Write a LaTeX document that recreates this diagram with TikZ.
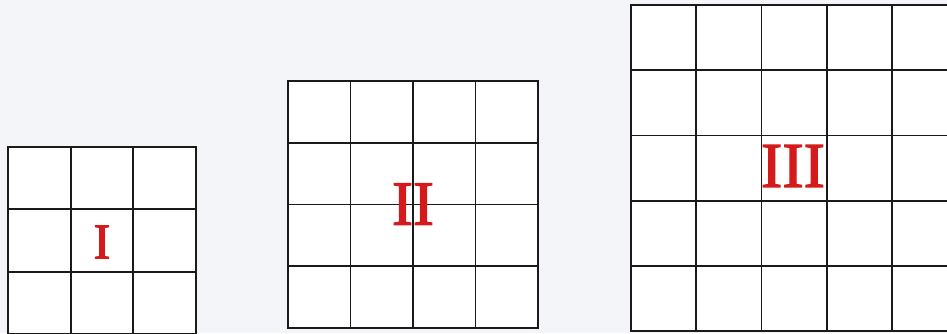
\documentclass[tikz,border=0pt]{standalone}
\usepackage{fontspec}
\setmainfont{Liberation Serif}
\newfontfamily\numfont[FakeBold=2]{Liberation Serif}
\definecolor{bgc}{HTML}{F4F5F8}
\definecolor{gridc}{HTML}{1A1A1A}
\definecolor{numc}{HTML}{D41A1A}
\tikzset{
  gridline/.style={draw=gridc, line width=1.8pt, fill=white},
  numlabel/.style={text=numc, inner sep=0pt}
}
\begin{document}
\begin{tikzpicture}[x=1pt,y=-1pt]
\useasboundingbox (0,0) rectangle (947,333);
\fill[bgc] (0,0) rectangle (947,333);
\clip (0,0) rectangle (947,333);
% Grid I
\filldraw[gridline] (8,147) rectangle (196,334);
\foreach \i in {1,2} {
  \draw[gridline] (8+62.67*\i,147) -- (8+62.67*\i,334);
  \draw[gridline] (8,147+62.33*\i) -- (196,147+62.33*\i);
}
% Grid II
\filldraw[gridline] (288,81) rectangle (538,328);
\foreach \i in {1,2,3} {
  \draw[gridline] (288+62.5*\i,81) -- (288+62.5*\i,328);
  \draw[gridline] (288,81+61.75*\i) -- (538,81+61.75*\i);
}
% Grid III
\filldraw[gridline] (631,5) rectangle (957,331);
\foreach \i in {1,2,3,4} {
  \draw[gridline] (631+65.25*\i,5) -- (631+65.25*\i,331);
  \draw[gridline] (631,5+65.2*\i) -- (957,5+65.2*\i);
}
\node[numlabel, font=\numfont\fontsize{50}{50}\selectfont] (one) at (102,242) {I};
\node[numlabel, font=\numfont\fontsize{63}{63}\selectfont] (two) at (413,204) {II};
\node[numlabel, font=\numfont\fontsize{64}{64}\selectfont] (three) at (793,166) {III};
\end{tikzpicture}
\end{document}
